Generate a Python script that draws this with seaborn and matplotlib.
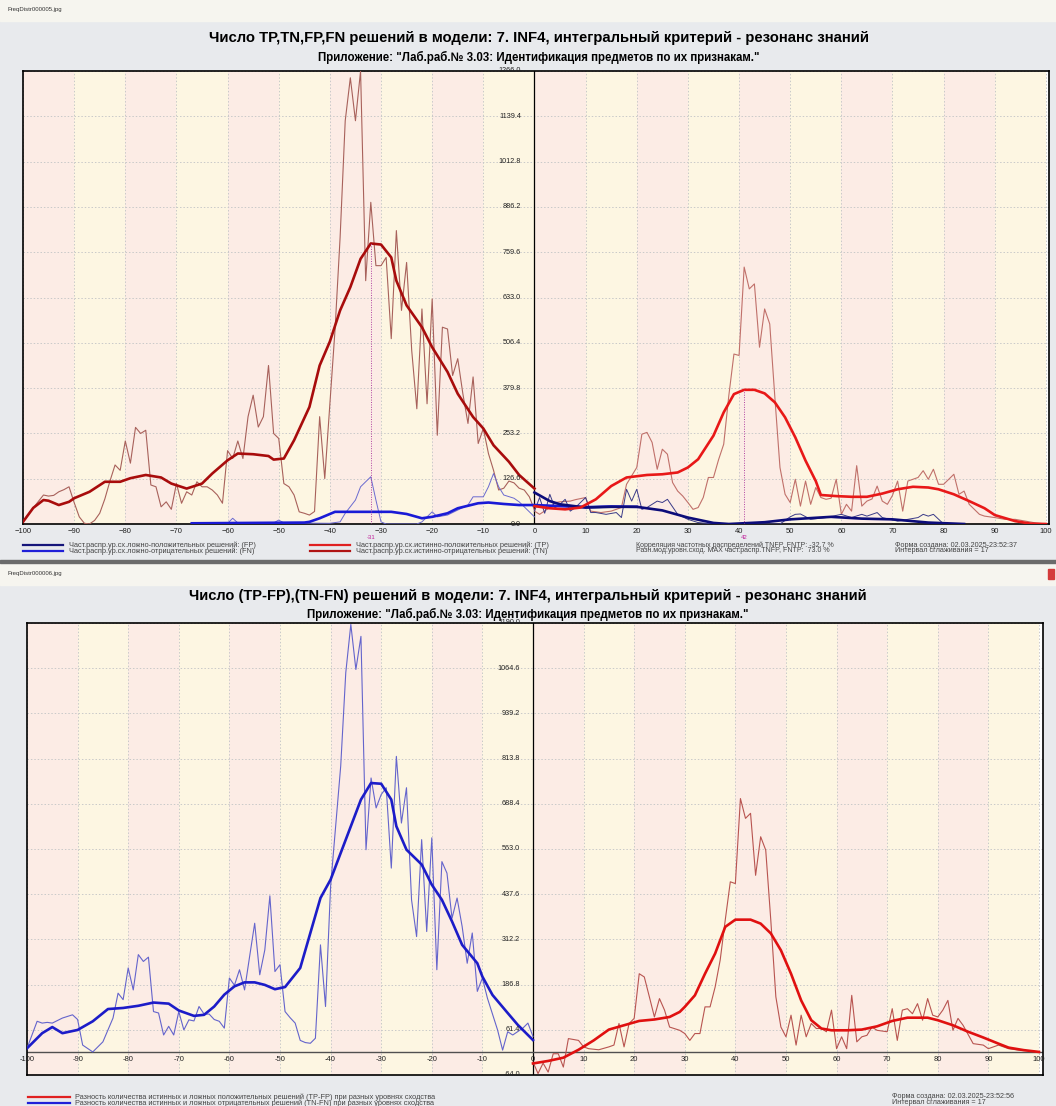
import numpy as np
import pandas as pd
import seaborn as sns
import matplotlib.pyplot as plt
from matplotlib.patches import Rectangle
from matplotlib.lines import Line2D

# ---------------- data ----------------
# top chart, left half: true negatives (TN) and false negatives (FN)
tn_raw_x = [-100, -98, -96, -95, -94, -93, -92, -91, -90, -89, -88, -87, -86, -85, -84, -83, -82, -81, -80, -79,
            -78, -77, -76, -75, -74, -73, -72, -71, -70, -69, -68, -67, -66, -65, -64, -63, -62, -61, -60, -59,
            -58, -57, -56, -55, -54, -53, -52, -51, -50, -49, -48, -47, -46, -45, -44, -43, -42, -41, -40, -39,
            -38, -37, -36, -35, -34, -33, -32, -31, -30, -29, -28, -27, -26, -25, -24, -23, -22, -21, -20, -19,
            -18, -17, -16, -15, -14, -13, -12, -11, -10, -9, -8, -7, -6, -5, -4, -3, -2, -1, 0]
tn_raw_y = [6, 45, 81, 78, 80, 90, 96, 104, 60, 20, 2, 0, 10, 30, 70, 120, 165, 150, 232, 170,
            270, 253, 262, 109, 104, 48, 62, 41, 113, 58, 90, 81, 118, 104, 104, 95, 81, 58, 205, 183,
            232, 183, 300, 360, 271, 300, 443, 253, 239, 113, 104, 81, 34, 30, 25, 35, 300, 127, 336, 541,
            801, 1127, 1247, 1127, 1266, 680, 899, 722, 722, 745, 518, 820, 597, 731, 485, 322, 601, 336, 629, 248,
            550, 545, 415, 462, 364, 281, 411, 225, 267, 197, 150, 95, 100, 120, 115, 100, 95, 76, 39]
tn_smooth_x = [-100, -98, -96, -95, -93, -91, -90, -87, -84, -81, -79, -76, -73, -71, -68, -65, -63, -60, -58, -55,
               -52, -51, -49, -47, -44, -42, -40, -38, -36, -34, -32, -30, -28, -27, -25, -22, -20, -17, -15, -12,
               -10, -8, -5, -3, 0]
tn_smooth_y = [6, 45, 67, 65, 53, 62, 72, 90, 118, 118, 128, 137, 130, 113, 99, 113, 141, 178, 197, 195,
               190, 180, 183, 234, 327, 443, 510, 597, 662, 741, 784, 781, 745, 680, 611, 550, 494, 425, 364, 299,
               267, 220, 174, 137, 99]
fn_raw_x = [-67, -60, -59, -58, -51, -50, -49, -40, -38, -37, -35, -34, -32, -31, -30, -29, -23, -22, -20, -19,
            -17, -15, -13, -12, -10, -9, -8, -7, -6, -4, -3, -2, 0]
fn_raw_y = [2, 2, 16, 3, 3, 11, 3, 2, 6, 30, 67, 104, 132, 67, 6, 0, 0, 6, 34, 20,
            25, 39, 53, 76, 76, 104, 141, 104, 81, 72, 62, 48, 20]
fn_smooth_x = [-67, -45, -44, -42, -39, -35, -28, -25, -22, -20, -17, -15, -11, -9, -6, -3, 0, 5, 10, 15, 20]
fn_smooth_y = [2, 4, 6, 16, 34, 34, 34, 28, 16, 20, 30, 44, 58, 60, 56, 53, 53, 50, 47, 49, 48]

# top chart, right half: true positives (TP) and false positives (FP)
tp_raw_x = [0, 1, 3, 4, 5, 7, 8, 10, 11, 13, 15, 17, 18, 20, 21, 22, 23, 24, 25, 26,
            27, 28, 29, 30, 31, 32, 33, 34, 35, 36, 37, 38, 39, 40, 41, 42, 43, 44, 45, 46,
            47, 48, 49, 50, 51, 52, 53, 54, 55, 56, 57, 58, 59, 60, 61, 62, 63, 64, 65, 66,
            67, 68, 69, 70, 71, 72, 73, 74, 75, 76, 77, 78, 79, 80, 81, 82, 83, 84, 85, 87,
            88, 90, 92, 94, 96, 98, 100]
tp_raw_y = [36, 27, 46, 60, 62, 64, 68, 74, 36, 32, 36, 46, 111, 158, 251, 256, 228, 153, 209, 195,
            116, 92, 78, 60, 41, 46, 74, 130, 130, 180, 223, 359, 475, 471, 718, 657, 671, 494, 601, 559,
            354, 158, 83, 60, 125, 50, 120, 55, 102, 74, 69, 72, 125, 27, 55, 36, 163, 50, 64, 70,
            106, 64, 55, 80, 120, 36, 120, 125, 130, 149, 125, 153, 111, 111, 125, 139, 83, 92, 55, 27,
            22, 18, 13, 13, 8, 3, 0]
tp_smooth_x = [0, 3, 6, 9, 12, 15, 18, 22, 25, 28, 30, 32, 35, 37, 39, 41, 43, 45, 47, 49,
               51, 53, 55, 56, 59, 62, 65, 68, 71, 74, 77, 79, 82, 85, 88, 90, 94, 97, 100]
tp_smooth_y = [50, 44, 41, 46, 69, 106, 130, 137, 139, 144, 158, 181, 247, 312, 363, 375, 375, 365, 340, 298,
               242, 177, 120, 81, 78, 76, 76, 85, 97, 104, 102, 97, 83, 64, 44, 25, 8, 1, 0]
fp_raw_x = [0, 1, 2, 3, 4, 5, 6, 7, 8, 10, 11, 12, 14, 16, 17, 18, 19, 20, 21, 22,
            24, 25, 26, 28, 30, 32, 35, 48, 50, 51, 52, 54, 57, 60, 62, 64, 65, 67, 68, 71,
            75, 76, 77, 78, 80]
fp_raw_y = [36, 74, 30, 83, 45, 55, 69, 36, 46, 74, 32, 32, 27, 32, 18, 97, 64, 97, 41, 46,
            64, 60, 69, 27, 13, 4, 0, 0, 20, 27, 28, 13, 18, 27, 18, 27, 22, 32, 18, 8,
            18, 27, 22, 27, 0]
fp_smooth_x = [0, 3, 5, 10, 15, 20, 25, 30, 35, 38, 45, 50, 58, 64, 70, 77, 84]
fp_smooth_y = [88, 64, 55, 46, 48, 48, 38, 18, 3, 0, 5, 13, 20, 15, 13, 4, 0]

peak_pos = [-32, 41]
peak_labels = ['-31', '42']

# bottom chart: differences TN-FN (left) and TP-FP (right)
tnfn_raw_x = [-100, -98, -97, -96, -95, -93, -91, -90, -89, -87, -85, -83, -82, -81, -80, -79, -78, -77, -76, -75,
              -74, -73, -72, -71, -70, -69, -68, -67, -66, -65, -64, -63, -62, -61, -60, -59, -58, -57, -56, -55,
              -54, -53, -52, -51, -50, -49, -48, -47, -46, -45, -44, -43, -42, -41, -40, -39, -38, -37, -36, -35,
              -34, -33, -32, -31, -30, -29, -28, -27, -26, -25, -24, -23, -22, -21, -20, -19, -18, -17, -16, -15,
              -14, -13, -12, -11, -10, -9, -7, -6, -5, -4, -2, -1, 0]
tnfn_raw_y = [10, 85, 80, 82, 80, 94, 103, 90, 19, 0, 28, 94, 163, 145, 233, 172, 270, 251, 263, 112,
              108, 47, 71, 47, 112, 61, 89, 86, 126, 105, 105, 90, 85, 66, 205, 185, 228, 172, 265, 357,
              214, 283, 433, 223, 242, 112, 95, 80, 32, 26, 24, 38, 297, 126, 459, 626, 793, 1052, 1186, 1061,
              1153, 561, 760, 677, 714, 733, 510, 820, 635, 733, 422, 320, 589, 334, 594, 228, 528, 496, 371, 427,
              348, 246, 330, 168, 205, 149, 61, 5, 56, 47, 66, 80, 43]
tnfn_smooth_x = [-100, -97, -95, -93, -90, -87, -84, -81, -78, -75, -72, -70, -67, -65, -63, -61, -59, -57, -55, -53,
                 -51, -49, -46, -44, -42, -40, -38, -36, -34, -32, -30, -28, -27, -25, -22, -20, -18, -16, -14, -11,
                 -10, -8, -5, -3, 0]
tnfn_smooth_y = [10, 52, 69, 52, 61, 85, 119, 122, 128, 137, 134, 115, 100, 103, 126, 159, 182, 193, 193, 186,
                 174, 180, 233, 330, 427, 478, 552, 626, 700, 746, 744, 700, 626, 561, 520, 464, 422, 362, 297, 246,
                 209, 158, 108, 75, 33]
tpfp_raw_x = [0, 1, 2, 3, 4, 5, 6, 7, 9, 10, 11, 13, 15, 16, 17, 18, 19, 20, 21, 22,
              23, 24, 25, 26, 27, 29, 30, 31, 32, 33, 34, 35, 36, 37, 38, 39, 40, 41, 42, 43,
              44, 45, 46, 47, 48, 49, 50, 51, 52, 53, 54, 55, 56, 57, 58, 59, 60, 61, 62, 63,
              64, 65, 66, 67, 68, 70, 71, 72, 73, 74, 75, 76, 77, 78, 79, 80, 81, 82, 83, 84,
              85, 87, 89, 90, 92, 94, 96, 98, 100]
tpfp_raw_y = [-28, -60, -31, -56, -5, -5, -42, 37, 32, 14, 9, 6, 14, 19, 79, 14, 79, 93, 217, 208,
              153, 97, 148, 116, 69, 60, 51, 32, 51, 51, 125, 125, 180, 255, 366, 472, 467, 703, 648, 662,
              490, 597, 560, 366, 153, 69, 42, 102, 19, 102, 42, 79, 65, 65, 56, 116, 9, 42, 9, 157,
              28, 42, 46, 69, 60, 56, 120, 32, 116, 120, 106, 134, 88, 148, 102, 97, 116, 143, 60, 93,
              74, 23, 19, 9, 19, 9, 5, 3, 0]
tpfp_smooth_x = [0, 3, 6, 9, 12, 15, 18, 21, 24, 27, 29, 30, 32, 34, 36, 38, 40, 43, 45, 47,
                 49, 51, 53, 55, 57, 59, 62, 65, 68, 71, 74, 78, 80, 83, 86, 89, 92, 94, 97, 100]
tpfp_smooth_y = [-32, -25, -16, 6, 32, 62, 74, 86, 90, 97, 111, 125, 157, 217, 273, 347, 367, 367, 356, 329,
                 282, 217, 143, 88, 65, 60, 60, 62, 71, 86, 95, 95, 88, 74, 56, 40, 23, 12, 5, 0]

x_ticks = list(range(-100, 101, 10))
top_yticks = [0.0, 126.6, 253.2, 379.8, 506.4, 633.0, 759.6, 886.2, 1012.8, 1139.4, 1266.0]
bot_yticks = [-64.0, 61.4, 186.8, 312.2, 437.6, 563.0, 688.4, 813.8, 939.2, 1064.6, 1190.0]

title_top = "Число TP,TN,FP,FN решений в модели: 7. INF4, интегральный критерий - резонанс знаний"
title_bot = "Число (TP-FP),(TN-FN) решений в модели: 7. INF4, интегральный критерий - резонанс знаний"
subtitle = 'Приложение: "Лаб.раб.№ 3.03: Идентификация предметов по их признакам."'

# ---------------- figure ----------------
W, H = 1056, 1106
SANS = ['Liberation Sans', 'DejaVu Sans']
plt.rcParams['font.family'] = SANS

PINK, CREAM = '#fcece5', '#fdf6e2'
GRID = '#c9c9c9'
TXT = '#444444'


def fx(x):
    return x / W


def fy(y):
    return 1 - y / H


def add_axes(left, top, right, bottom):
    return fig.add_axes([fx(left), fy(bottom), (right - left) / W, (bottom - top) / H])


def line(ax, xs, ys, color, lw, z=3):
    sns.lineplot(x=xs, y=ys, ax=ax, color=color, linewidth=lw, estimator=None, sort=False, zorder=z)


def base_axes(ax, ylo, yhi, yticks, xhi):
    ax.set_xlim(-100, xhi)
    ax.set_ylim(ylo, yhi)
    for i, lo in enumerate(range(-100, 100, 10)):
        ax.axvspan(lo, lo + 10, color=PINK if i % 2 == 0 else CREAM, zorder=0, lw=0)
    ax.set_xticks(x_ticks)
    ax.set_yticks(yticks)
    ax.grid(True, linestyle=(0, (1.5, 2)), color=GRID, linewidth=0.7, zorder=1)
    ax.set_axisbelow(True)
    ax.tick_params(length=0, labelleft=False, labelsize=5.5, colors='#222222')
    for s in ax.spines.values():
        s.set_color('black')
        s.set_linewidth(1.2)
    ax.axvline(0, color='black', lw=0.9, zorder=2)
    for v in yticks:
        ax.text(-2.6, v, f'{v:.1f}', ha='right', va='center', fontsize=5.2, color='#222222', zorder=6)
    ax.set_xlabel('')
    ax.set_ylabel('')


fig = plt.figure(figsize=(W / 100, H / 100), dpi=100)
fig.patch.set_facecolor('#e8eaed')

# window strips (file name bars)
fig.patches.append(Rectangle((0, fy(21)), 1, 21 / H, transform=fig.transFigure, color='#f6f5ef', zorder=0))
fig.patches.append(Rectangle((0, fy(585)), 1, 24 / H, transform=fig.transFigure, color='#f6f5ef', zorder=0))
fig.patches.append(Rectangle((0, fy(563)), 1, 3 / H, transform=fig.transFigure, color='#6b6b6b', zorder=0))
fig.patches.append(Rectangle((fx(1048), fy(579)), 6 / W, 10 / H, transform=fig.transFigure, color='#d43b3b', zorder=1))
fig.text(fx(7), fy(9), 'FreqDistr000005.jpg', fontsize=4.3, color='#333333', va='center')
fig.text(fx(7), fy(574), 'FreqDistr000006.jpg', fontsize=4.3, color='#333333', va='center')

# ---------------- top chart ----------------
ax1 = add_axes(23, 71, 1049, 524)
base_axes(ax1, 0, 1266, top_yticks, 100.6)
ax1.tick_params(axis='x', pad=3)

line(ax1, tn_raw_x, tn_raw_y, '#a8615b', 0.8)
line(ax1, fn_raw_x, fn_raw_y, '#6a6ad0', 0.7)
line(ax1, tp_raw_x, tp_raw_y, '#c0706a', 0.8)
line(ax1, fp_raw_x, fp_raw_y, '#3a3a88', 0.7)
line(ax1, fn_smooth_x, fn_smooth_y, '#1a1ad6', 1.9, z=4)
line(ax1, fp_smooth_x, fp_smooth_y, '#0c0c7a', 1.9, z=4)
line(ax1, tn_smooth_x, tn_smooth_y, '#a80c0c', 1.9, z=4)
line(ax1, tp_smooth_x, tp_smooth_y, '#e81818', 1.9, z=4)

for pos, lab, sy in zip(peak_pos, peak_labels, [tn_smooth_y, tp_smooth_y]):
    ax1.vlines(pos, 0, max(sy), colors='#b040a0', linestyles=(0, (1, 1.5)), lw=0.7, zorder=5)
    ax1.annotate(lab, (pos, 0), xytext=(0, -9.5), textcoords='offset points', ha='center', va='center',
                 fontsize=4.3, color='#c0209a', annotation_clip=False)

fig.text(0.51, fy(38), title_top, ha='center', va='center', fontsize=10.7, fontweight='bold')
fig.text(0.51, fy(57), subtitle, ha='center', va='center', fontsize=8.3, fontweight='bold')

leg_top = [
    (23, 63, 545, '#15157a', 'Част.распр.ур.сх.ложно-положительных решений: (FP)'),
    (23, 63, 551, '#1f1fd8', 'Част.распр.ур.сх.ложно-отрицательных решений: (FN)'),
    (310, 350, 545, '#e02020', 'Част.распр.ур.сх.истинно-положительных решений: (TP)'),
    (310, 350, 551, '#b01414', 'Част.распр.ур.сх.истинно-отрицательных решений: (TN)'),
]
for x0, x1, y, c, t in leg_top:
    fig.add_artist(Line2D([fx(x0), fx(x1)], [fy(y), fy(y)], color=c, lw=1.6, transform=fig.transFigure))
    fig.text(fx(x1 + 6), fy(y), t, fontsize=5.3, color=TXT, va='center')
fig.text(fx(636), fy(545), 'Корреляция частотных распределений TNFP, FNTP: -32.7 %', fontsize=5, color=TXT, va='center')
fig.text(fx(636), fy(551), 'Разн.мод.уровн.сход. MAX част.распр.TNFP, FNTP:  73.0 %', fontsize=5, color=TXT, va='center')
fig.text(fx(895), fy(545), 'Форма создана: 02.03.2025-23:52:37', fontsize=5.2, color=TXT, va='center')
fig.text(fx(895), fy(551), 'Интервал сглаживания = 17', fontsize=5.2, color=TXT, va='center')

# ---------------- bottom chart ----------------
ax2 = add_axes(27, 623, 1043, 1075)
base_axes(ax2, -64, 1190, bot_yticks, 100.8)
ax2.tick_params(axis='x', labelbottom=False)
ax2.axhline(0, color='#505050', lw=1.0, zorder=2)
for v in x_ticks:
    ax2.annotate(str(v), (v, 0), xytext=(0, -3), textcoords='offset points', ha='center', va='top',
                 fontsize=5.5, color='#222222', zorder=6)

line(ax2, tnfn_raw_x, tnfn_raw_y, '#6464cc', 0.8)
line(ax2, tpfp_raw_x, tpfp_raw_y, '#b85450', 0.8)
line(ax2, tnfn_smooth_x, tnfn_smooth_y, '#1c1cc8', 1.9, z=4)
line(ax2, tpfp_smooth_x, tpfp_smooth_y, '#e01010', 1.9, z=4)

fig.text(0.5, fy(596), title_bot, ha='center', va='center', fontsize=10.5, fontweight='bold')
fig.text(0.5, fy(614), subtitle, ha='center', va='center', fontsize=8.3, fontweight='bold')

leg_bot = [
    (28, 70, 1097, '#e02020', 'Разность количества истинных и ложных положительных решений (TP-FP) при разных уровнях сходства'),
    (28, 70, 1103, '#1f1fd8', 'Разность количества истинных и ложных отрицательных решений (TN-FN) при разных уровнях сходства'),
]
for x0, x1, y, c, t in leg_bot:
    fig.add_artist(Line2D([fx(x0), fx(x1)], [fy(y), fy(y)], color=c, lw=1.6, transform=fig.transFigure))
    fig.text(fx(x1 + 5), fy(y), t, fontsize=5.3, color=TXT, va='center')
fig.text(fx(892), fy(1096), 'Форма создана: 02.03.2025-23:52:56', fontsize=5.2, color=TXT, va='center')
fig.text(fx(892), fy(1102), 'Интервал сглаживания = 17', fontsize=5.2, color=TXT, va='center')

fig.savefig('out.png', dpi=100, facecolor=fig.get_facecolor())
